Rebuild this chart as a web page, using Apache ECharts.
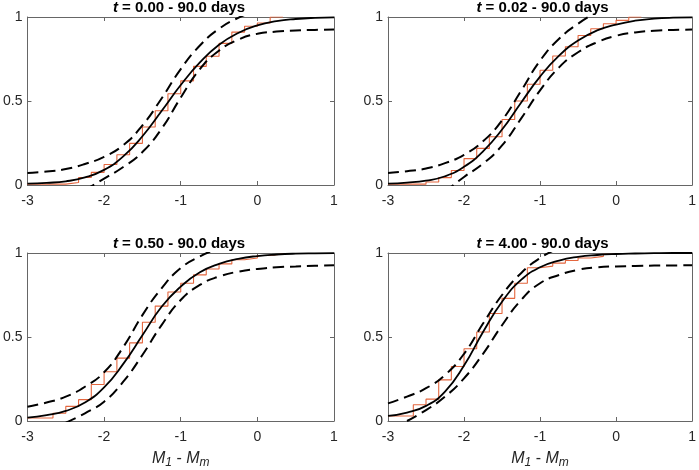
<!DOCTYPE html>
<html lang="en">
<head>
<meta charset="UTF-8">
<title>CDF fits</title>
<script type="text/javascript" src="https://cdn.jsdelivr.net/npm/echarts@6/dist/echarts.min.js"></script>
<style>html,body{margin:0;padding:0;background:#fff;}</style>
</head>
<body>
<div id="chartmain" style="width:699px;height:470px"></div>
<script>
    var xGrid = [-3, -2.75, -2.5, -2.25, -2, -1.75, -1.5, -1.25, -1, -0.75, -0.5, -0.25, 0, 0.25, 0.5, 0.75, 1];
    var tStart = ['0.00', '0.02', '0.50', '4.00'];

    // panel 1: t = 0.00
    var fit0 = [0.008, 0.013, 0.022, 0.045, 0.09, 0.17, 0.29, 0.44, 0.595, 0.73, 0.835, 0.905, 0.95, 0.975, 0.988, 0.995, 0.998];
    var hi0  = [0.072, 0.08, 0.095, 0.125, 0.168, 0.237, 0.355, 0.515, 0.69, 0.83, 0.93, 0.995, 1.04, null, null, null, null];
    var lo0  = [null, null, null, -0.03, 0.038, 0.107, 0.196, 0.335, 0.52, 0.69, 0.80, 0.865, 0.9, 0.913, 0.92, 0.923, 0.925];
    var stepX0 = [-3, -2.5, -2.333, -2.167, -2, -1.833, -1.667, -1.5, -1.333, -1.167, -1, -0.833, -0.667, -0.5, -0.333, -0.167, 0, 0.167, 0.333];
    var ecdf0  = [0.005, 0.015, 0.045, 0.075, 0.122, 0.18, 0.248, 0.345, 0.442, 0.543, 0.62, 0.706, 0.766, 0.843, 0.91, 0.945, 0.964, 1.0, 1.0];

    // panel 2: t = 0.02
    var fit1 = [0.008, 0.014, 0.026, 0.052, 0.108, 0.2, 0.33, 0.49, 0.645, 0.77, 0.86, 0.92, 0.955, 0.978, 0.99, 0.996, 0.998];
    var hi1  = [0.072, 0.082, 0.098, 0.13, 0.18, 0.26, 0.385, 0.56, 0.74, 0.87, 0.96, 1.03, null, null, null, null, null];
    var lo1  = [null, null, null, -0.04, 0.048, 0.127, 0.236, 0.395, 0.563, 0.70, 0.79, 0.85, 0.888, 0.908, 0.918, 0.923, 0.925];
    var stepX1 = [-3, -2.5, -2.333, -2.167, -2, -1.833, -1.667, -1.5, -1.333, -1.167, -1, -0.833, -0.667, -0.5, -0.333, -0.167, 0, 0.167, 0.333];
    var ecdf1  = [0.005, 0.018, 0.044, 0.086, 0.157, 0.218, 0.287, 0.39, 0.5, 0.6, 0.683, 0.768, 0.823, 0.89, 0.93, 0.96, 0.98, 1.0, 1.0];

    // panel 3: t = 0.50
    var fit2 = [0.02, 0.035, 0.06, 0.11, 0.2, 0.34, 0.51, 0.68, 0.8, 0.885, 0.935, 0.965, 0.982, 0.991, 0.996, 0.998, 0.999];
    var hi2  = [0.085, 0.11, 0.145, 0.204, 0.29, 0.44, 0.63, 0.79, 0.91, 0.98, 1.03, null, null, null, null, null, null];
    var lo2  = [null, null, -0.01, 0.046, 0.115, 0.234, 0.393, 0.571, 0.72, 0.81, 0.86, 0.889, 0.905, 0.915, 0.92, 0.924, 0.927];
    var stepX2 = [-3, -2.667, -2.5, -2.333, -2.167, -2, -1.833, -1.667, -1.5, -1.333, -1.167, -1, -0.833, -0.667, -0.5, -0.333, -0.167, 0, 0.167, 0.333];
    var ecdf2  = [0.018, 0.046, 0.087, 0.127, 0.217, 0.293, 0.374, 0.465, 0.588, 0.684, 0.768, 0.82, 0.87, 0.905, 0.935, 0.96, 0.97, 0.985, 0.995, 1.0];

    // panel 4: t = 4.00
    var fit3 = [0.03, 0.05, 0.09, 0.175, 0.33, 0.53, 0.71, 0.84, 0.915, 0.955, 0.977, 0.988, 0.994, 0.997, 0.999, 1.0, 1.0];
    var hi3  = [0.105, 0.145, 0.195, 0.274, 0.4, 0.58, 0.75, 0.88, 0.97, 1.03, null, null, null, null, null, null, null];
    var lo3  = [null, 0.0, 0.065, 0.145, 0.254, 0.4, 0.57, 0.72, 0.82, 0.869, 0.9, 0.915, 0.92, 0.923, 0.925, 0.926, 0.927];
    var stepX3 = [-3, -2.667, -2.5, -2.333, -2.167, -2, -1.833, -1.667, -1.5, -1.333, -1.167, -1, -0.833, -0.667, -0.5, -0.333, -0.167, 0];
    var ecdf3  = [0.03, 0.097, 0.13, 0.245, 0.324, 0.43, 0.53, 0.64, 0.73, 0.82, 0.912, 0.922, 0.94, 0.955, 0.97, 0.98, 0.993, 1.0];

    var fits = [fit0, fit1, fit2, fit3];
    var his = [hi0, hi1, hi2, hi3];
    var los = [lo0, lo1, lo2, lo3];
    var stepXs = [stepX0, stepX1, stepX2, stepX3];
    var ecdfs = [ecdf0, ecdf1, ecdf2, ecdf3];

    var FONT = 'Liberation Sans, Arial, Helvetica, sans-serif';
    var AX = '#666';
    var TXT = '#262626';

    function pairs(xs, ys) {
        var out = [];
        for (var k = 0; k < xs.length; k++) {
            if (ys[k] !== null) out.push([xs[k], ys[k]]);
        }
        return out;
    }

    var boxes = [
        {left: 24, top: 17, width: 310, height: 168},
        {left: 388, top: 17, width: 309, height: 168},
        {left: 24, top: 253, width: 310, height: 168},
        {left: 388, top: 253, width: 309, height: 168}
    ];

    var grid = [], xAxis = [], yAxis = [], series = [], title = [];
    for (var i = 0; i < 4; i++) {
        var b = boxes[i];
        grid.push({left: b.left, top: b.top, width: b.width, height: b.height, containLabel: false});

        title.push({
            text: '{it|t} = ' + tStart[i] + ' - 90.0 days',
            left: b.left + b.width / 2,
            top: b.top - 17,
            textAlign: 'center',
            padding: 0,
            textStyle: {
                fontFamily: FONT, fontSize: 15, fontWeight: 'bold', color: '#000', lineHeight: 16,
                rich: {it: {fontFamily: FONT, fontSize: 15, fontWeight: 'bold', fontStyle: 'italic', color: '#000'}}
            }
        });

        var bottomRow = i >= 2;
        // bottom x axis with labels
        xAxis.push({
            type: 'value', gridIndex: i, min: -3, max: 1, interval: 1, position: 'bottom',
            axisLine: {show: true, onZero: false, lineStyle: {color: AX, width: 1}},
            axisTick: {show: true, inside: true, length: 4, lineStyle: {color: AX}},
            axisLabel: {show: true, margin: 9, color: TXT, fontFamily: FONT, fontSize: 14},
            splitLine: {show: false},
            name: bottomRow ? '{i|M}{s|1}{n| - }{i|M}{s|m}' : '',
            nameLocation: 'middle',
            nameGap: 30,
            nameTextStyle: {
                rich: {
                    i: {fontFamily: FONT, fontSize: 16, fontStyle: 'italic', color: TXT, lineHeight: 18, verticalAlign: 'top'},
                    n: {fontFamily: FONT, fontSize: 16, color: TXT, lineHeight: 18, verticalAlign: 'top'},
                    s: {fontFamily: FONT, fontSize: 12, fontStyle: 'italic', color: TXT, lineHeight: 14, verticalAlign: 'bottom', padding: [10, 0, 0, 0]}
                }
            }
        });
        // top x axis: box edge with ticks only
        xAxis.push({
            type: 'value', gridIndex: i, min: -3, max: 1, interval: 1, position: 'top',
            axisLine: {show: true, onZero: false, lineStyle: {color: AX, width: 1}},
            axisTick: {show: true, inside: true, length: 4, lineStyle: {color: AX}},
            axisLabel: {show: false},
            splitLine: {show: false}
        });
        yAxis.push({
            type: 'value', gridIndex: i, min: 0, max: 1, interval: 0.5, position: 'left',
            axisLine: {show: true, onZero: false, lineStyle: {color: AX, width: 1}},
            axisTick: {show: true, inside: true, length: 4, lineStyle: {color: AX}},
            axisLabel: {show: true, margin: 5, color: TXT, fontFamily: FONT, fontSize: 14},
            splitLine: {show: false}
        });
        yAxis.push({
            type: 'value', gridIndex: i, min: 0, max: 1, interval: 0.5, position: 'right',
            axisLine: {show: true, onZero: false, lineStyle: {color: AX, width: 1}},
            axisTick: {show: true, inside: true, length: 4, lineStyle: {color: AX}},
            axisLabel: {show: false},
            splitLine: {show: false}
        });

        var xi = i * 2, yi = i * 2;
        var lineBase = {
            type: 'line', xAxisIndex: xi, yAxisIndex: yi, showSymbol: false, symbol: 'none',
            smooth: 0.5, clip: true, animation: false
        };
        series.push({
            type: 'line', name: 'ecdf' + i, xAxisIndex: xi, yAxisIndex: yi,
            showSymbol: false, symbol: 'none', step: 'end', clip: true, animation: false,
            data: pairs(stepXs[i], ecdfs[i]),
            lineStyle: {color: '#E4663E', width: 1.1}
        });
        series.push(Object.assign({}, lineBase, {
            name: 'upper' + i, data: pairs(xGrid, his[i]),
            lineStyle: {color: '#000', width: 2, type: [11, 6]}
        }));
        series.push(Object.assign({}, lineBase, {
            name: 'lower' + i, data: pairs(xGrid, los[i]),
            lineStyle: {color: '#000', width: 2, type: [11, 6]}
        }));
        series.push(Object.assign({}, lineBase, {
            name: 'fit' + i, data: pairs(xGrid, fits[i]),
            lineStyle: {color: '#000', width: 1.8}
        }));
    }

    var option = {
        backgroundColor: '#fff',
        animation: false,
        title: title,
        grid: grid,
        xAxis: xAxis,
        yAxis: yAxis,
        series: series
    };

    var myChart = echarts.init(document.getElementById('chartmain'));
    myChart.setOption(option);
</script>
</body>
</html>
